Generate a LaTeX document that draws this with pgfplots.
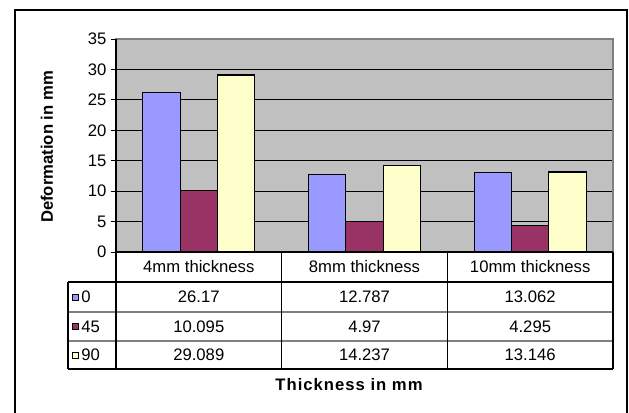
\documentclass[border=0pt]{standalone}
\usepackage{pgfplots}
\pgfplotsset{compat=1.18}
\usepackage{fontspec}
\setmainfont{Liberation Sans}
\definecolor{cA}{HTML}{9999FF}
\definecolor{cB}{HTML}{993366}
\definecolor{cC}{HTML}{FFFFCC}
\definecolor{bgG}{HTML}{C0C0C0}
\definecolor{lineG}{HTML}{808080}
\newcommand{\tf}{\fontsize{12.5}{14}\selectfont}
\begin{document}
\begin{tikzpicture}
\useasboundingbox (0,0) rectangle (471.75pt,309pt);
\begin{axis}[at={(87pt,120pt)}, anchor=south west, scale only axis,
  width=372.75pt, height=159.75pt,
  xmin=-0.5, xmax=2.5, ymin=0, ymax=35,
  ytick={0,5,...,35}, xtick=\empty,
  ybar=0pt, bar width=28pt,
  ymajorgrids, grid style={black, line width=0.6pt},
  axis background/.style={fill=bgG},
  axis line style={draw=lineG, line width=0.8pt},
  tick align=outside, ytick pos=left, major tick length=3.75pt,
  tick style={black, line width=0.6pt},
  yticklabel style={font=\tf, /pgf/number format/assume math mode=true},
  clip=false]
\addplot[fill=cA, draw=black, line width=0.9pt] coordinates {(0,26.17) (1,12.787) (2,13.062)};
\addplot[fill=cB, draw=black, line width=0.9pt] coordinates {(0,10.095) (1,4.97) (2,4.295)};
\addplot[fill=cC, draw=black, line width=0.9pt] coordinates {(0,29.089) (1,14.237) (2,13.146)};
\end{axis}
\begin{scope}[x=0.75pt,y=0.75pt]
% frame
\draw[line width=1.4pt] (15,-5) -- (15,402) -- (627,402) -- (627,-5);
% table
\begin{scope}[line width=0.8pt]
\draw[lineG] (68,100) -- (613,100);
\draw[lineG] (68,71) -- (613,71);
\draw (116,373) -- (116,43);
\draw (116,160) -- (613,160);
\draw (68,130) -- (613,130);
\draw (68,43) -- (613,43);
\draw (68,130) -- (68,43);
\draw (281.7,160) -- (281.7,43);
\draw (447.3,160) -- (447.3,43);
\draw (613,160) -- (613,43);
\end{scope}
% header texts
\node[font=\tf] at (198.8,145) {4mm thickness};
\node[font=\tf] at (364.5,145) {8mm thickness};
\node[font=\tf] at (530.2,145) {10mm thickness};
% values
\node[font=\tf] at (198.8,115) {26.17};
\node[font=\tf] at (364.5,115) {12.787};
\node[font=\tf] at (530.2,115) {13.062};
\node[font=\tf] at (198.8,85.5) {10.095};
\node[font=\tf] at (364.5,85.5) {4.97};
\node[font=\tf] at (530.2,85.5) {4.295};
\node[font=\tf] at (198.8,57) {29.089};
\node[font=\tf] at (364.5,57) {14.237};
\node[font=\tf] at (530.2,57) {13.146};
% legend keys
\draw[fill=cA, line width=0.5pt] (72,112) rectangle (78,118);
\draw[fill=cB, line width=0.5pt] (72,82.5) rectangle (78,88.5);
\draw[fill=cC, line width=0.5pt] (72,54) rectangle (78,60);
\node[font=\tf, anchor=west, inner sep=0pt] at (81,115) {0};
\node[font=\tf, anchor=west, inner sep=0pt] at (81,85.5) {45};
\node[font=\tf, anchor=west, inner sep=0pt] at (81,57) {90};
% titles
\node[font=\tf\bfseries, rotate=90] at (47,265) {Deformation in mm};
\node[font=\tf\bfseries\addfontfeatures{LetterSpace=6}] at (349,27) {Thickness in mm};
\end{scope}
\end{tikzpicture}
\end{document}
